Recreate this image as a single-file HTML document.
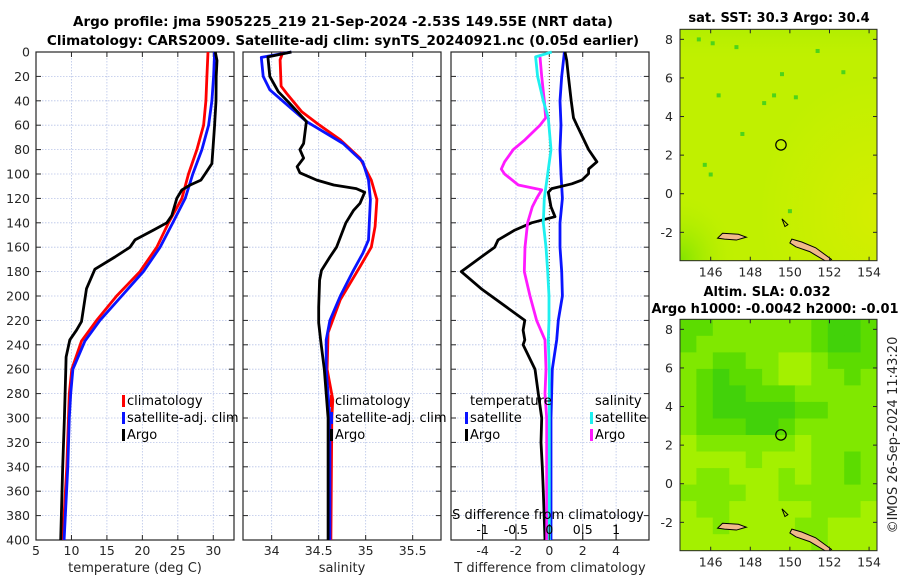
<!DOCTYPE html>
<html><head><meta charset="utf-8"><style>
html,body{margin:0;padding:0;background:#fff;}
svg{display:block;font-family:"DejaVu Sans","Liberation Sans",sans-serif;}
</style></head><body>
<svg id="fig" width="900" height="580" viewBox="0 0 900 580" xmlns="http://www.w3.org/2000/svg">
<rect width="900" height="580" fill="#fff"/>
<text x="343" y="26" font-size="13.5" font-weight="bold" text-anchor="middle" fill="#000">Argo profile: jma 5905225_219 21-Sep-2024 -2.53S 149.55E (NRT data)</text>
<text x="343" y="45" font-size="13.5" font-weight="bold" text-anchor="middle" fill="#000">Climatology: CARS2009. Satellite-adj clim: synTS_20240921.nc (0.05d earlier)</text>
<g id="panels"></g>
<g id="maps"></g>
<text transform="translate(897,435) rotate(-90)" font-size="13" text-anchor="middle" fill="#262626">©IMOS 26-Sep-2024 11:43:20</text>
</svg>
<script>
// ---------- DATA ----------
const depthTicks = [0,20,40,60,80,100,120,140,160,180,200,220,240,260,280,300,320,340,360,380,400];
const tTicks = [5,10,15,20,25,30];
const sTicks = [34,34.5,35,35.5];
const dTTicks = [-4,-2,0,2,4];
const dSTicks = [-1,-0.5,0,0.5,1];
const dSTickLabels = ['-1','-0.5','0','0.5','1'];

const tClimDepth = [0,20,40,60,80,100,120,140,160,180,200,220,237,260,280,300,340,400];
const tClim = [29.25,29.10,28.96,28.63,27.69,26.51,25.57,23.68,22.03,19.67,16.37,13.54,11.42,10.05,9.7,9.58,9.34,8.77];
const tSat = [30.19,30.05,29.81,29.34,28.40,27.12,26.04,24.29,22.5,20.14,17.08,14.01,11.89,10.2,9.9,9.7,9.48,8.96];
const tArgoDepth = [0,7,20,40,60,80,91.5,95.6,99.7,105,109,113,120,134,140,146,154,160,168,178,194,221,228,236,250,260,300,340,400];
const tArgo = [30.28,30.52,30.42,30.38,30.19,29.95,29.81,29.34,28.87,28.25,26.75,25.57,24.86,24.15,23.44,21.56,18.96,18.25,16.13,13.30,12.12,11.42,10.71,9.76,9.25,9.2,9.0,8.77,8.49];

const sClimDepth = [0,6.5,28,34,49,60,72,87,105,121,143,160,176,203,230,260,285,300,400];
const sClim = [34.12,34.09,34.10,34.16,34.32,34.51,34.73,34.94,35.06,35.12,35.10,35.06,34.94,34.73,34.60,34.59,34.65,34.64,34.63];
const sSatDepth = [0,4.4,20,31,45,57,75,90,105,121,154,165,179,200,220,236,260,300,400];
const sSat = [34.21,33.89,33.91,33.98,34.19,34.37,34.76,34.97,35.03,35.05,35.03,34.97,34.87,34.73,34.62,34.58,34.58,34.62,34.62];
const sArgoDepth = [0,4,20,32.5,42,57,75,80,87,94,99,105,109,112,115,124,130,140,160,168,179,187,209,222,236,260,300,400];
const sArgo = [34.21,33.96,33.98,34.07,34.19,34.37,34.34,34.30,34.34,34.27,34.30,34.48,34.66,34.90,34.99,34.94,34.87,34.79,34.69,34.62,34.53,34.51,34.50,34.50,34.52,34.56,34.60,34.60];

const dTSatDepth = [0,20,40,60,80,100,120,140,160,180,200,220,236,260,300,400];
const dTSat = [0.90,0.74,0.64,0.70,0.64,0.70,0.78,0.64,0.64,0.74,0.78,0.54,0.44,0.18,0.1,0.1];
const dTArgoDepth = [0,6.8,20,40,54,60,80,90,96,99.7,105,108,112,115,127,135,140,146,154,160,168,178,180,194,220,228,236,240,260,280,300,320,340,360,400];
const dTArgo = [0.94,1.04,1.14,1.31,1.45,1.65,2.35,2.85,2.35,2.35,1.95,1.35,0.14,-0.06,0.10,0.34,-1.06,-2.07,-3.07,-3.27,-4.08,-5.08,-5.28,-4.08,-1.47,-1.57,-1.47,-1.57,-0.86,-0.66,-0.46,-0.5,-0.42,-0.36,-0.26];
const dSSatDepth = [0,4,20,40,54,80,100,120,140,160,180,200,220,236,260,300,400];
const dSSat = [0.035,-0.205,-0.175,-0.09,-0.015,0.025,-0.025,-0.075,-0.09,-0.05,-0.025,-0.005,-0.005,-0.015,0,0,0];
const dSArgoDepth = [4,20,40,54,60,72,80,90,96,100,109,113,120,127,140,160,180,200,220,236,260,280,300,400];
const dSArgo = [-0.14,-0.115,-0.075,-0.055,-0.14,-0.365,-0.54,-0.67,-0.72,-0.67,-0.465,-0.115,-0.19,-0.255,-0.325,-0.365,-0.375,-0.29,-0.19,-0.065,-0.05,-0.065,-0.04,-0.04];

const lonTicks = [146,148,150,152,154];
const latTicks = [-2,0,2,4,6,8];
const argoLon = 149.55, argoLat = 2.53;
const slaGrid = [
 [2,2,1,1,1,1,1,1,2,3,3,2],
 [2,1,1,1,1,1,1,1,2,3,3,2],
 [1,1,2,2,1,1,0,0,1,2,2,2],
 [1,2,3,2,2,1,0,0,1,1,2,1],
 [1,2,3,3,2,2,2,1,1,1,1,1],
 [1,2,3,3,3,3,3,2,2,1,1,1],
 [1,2,2,2,3,3,2,1,1,1,1,1],
 [0,1,1,1,1,1,1,0,1,1,1,1],
 [0,0,0,0,1,0,0,0,1,1,2,1],
 [0,1,1,0,0,0,1,0,1,1,2,1],
 [1,1,1,1,0,0,1,1,1,1,1,1],
 [0,1,1,0,0,0,0,0,1,1,1,0],
 [0,0,1,0,0,0,0,1,1,0,0,0],
 [0,0,0,0,0,0,0,0,1,0,0,0]];
const slaColors = ['#a4f000','#80e800','#5cdc00','#42d20a'];

// ---------- DRAW ----------
const NS='http://www.w3.org/2000/svg';
function mk(tag,attrs,parent){const e=document.createElementNS(NS,tag);for(const k in attrs)e.setAttribute(k,attrs[k]);parent.appendChild(e);return e;}
const panels=document.getElementById('panels');
const Y0=52,Y1=540;
const yOf=d=>Y0+(d/400)*(Y1-Y0);

function axisPanel(name,x0,x1,xmin,xmax,ticks,labels,xlabel){
  const g=mk('g',{},panels);
  
  
  const xOf=v=>x0+(v-xmin)/(xmax-xmin)*(x1-x0);
  ticks.forEach(t=>{mk('line',{x1:xOf(t),x2:xOf(t),y1:Y0,y2:Y1,stroke:'#b8c4e8','stroke-width':0.8,'stroke-dasharray':'1.5,1.5'},g);});
  depthTicks.forEach(d=>{mk('line',{x1:x0,x2:x1,y1:yOf(d),y2:yOf(d),stroke:'#b8c4e8','stroke-width':0.8,'stroke-dasharray':'1.5,1.5'},g);});
  depthTicks.forEach(d=>{mk('line',{x1:x0,x2:x0+5,y1:yOf(d),y2:yOf(d),stroke:'#262626'},g);mk('line',{x1:x1-5,x2:x1,y1:yOf(d),y2:yOf(d),stroke:'#262626'},g);});
  ticks.forEach((t,i)=>{mk('line',{x1:xOf(t),x2:xOf(t),y1:Y1,y2:Y1-5,stroke:'#262626'},g);mk('line',{x1:xOf(t),x2:xOf(t),y1:Y0,y2:Y0+5,stroke:'#262626'},g);
    const tx=mk('text',{x:xOf(t),y:555,'font-size':12.5,'text-anchor':'middle',fill:'#262626'},g);tx.textContent=labels[i];
    
    });
  const xl=mk('text',{x:(x0+x1)/2,y:572,'font-size':13,'text-anchor':'middle',fill:'#262626'},g);xl.textContent=xlabel;
  
  
  mk('rect',{x:x0,y:Y0,width:x1-x0,height:Y1-Y0,fill:'none',stroke:'#262626','stroke-width':1.2},g);
  return {g,xOf};
}
function line(g,xOf,depths,vals,color,name,w){
  const p=mk('polyline',{points:depths.map((d,i)=>xOf(vals[i]).toFixed(1)+','+yOf(d).toFixed(1)).join(' '),fill:'none',stroke:color,'stroke-width':w||2.8,'stroke-linejoin':'round'},g);
  
  
}
function legend(g,x,y,items){
  items.forEach((it,i)=>{
    mk('rect',{x:x,y:y+i*17-10,width:3,height:12,fill:it[1]},g);
    const t=mk('text',{x:x+5,y:y+i*17,'font-size':13,fill:'#000'},g);t.textContent=it[0];
    
    
  });
}

depthTicks.forEach(d=>{const t=mk('text',{x:30,y:yOf(d)+4.5,'font-size':12.5,'text-anchor':'end',fill:'#262626'},panels);t.textContent=d;
  
  });

const p1=axisPanel('temperature-panel',36,234,5,5+197.7/7.08,tTicks,tTicks.map(String),'temperature (deg C)');
line(p1.g,p1.xOf,tClimDepth,tClim,'#ff0000','climatology-temp-line');
line(p1.g,p1.xOf,tClimDepth,tSat,'#0a14ff','satellite-temp-line');
line(p1.g,p1.xOf,tArgoDepth,tArgo,'#000','argo-temp-line');
legend(p1.g,122,405,[['climatology','#ff0000'],['satellite-adj. clim','#0a14ff'],['Argo','#000']]);

const p2=axisPanel('salinity-panel',243,441,33.695,33.695+198/94,sTicks,['34','34.5','35','35.5'],'salinity');
line(p2.g,p2.xOf,sClimDepth,sClim,'#ff0000','climatology-salinity-line');
line(p2.g,p2.xOf,sSatDepth,sSat,'#0a14ff','satellite-salinity-line');
line(p2.g,p2.xOf,sArgoDepth,sArgo,'#000','argo-salinity-line');
legend(p2.g,330,405,[['climatology','#ff0000'],['satellite-adj. clim','#0a14ff'],['Argo','#000']]);

const p3=axisPanel('difference-panel',451,649,-5.89,5.97,dTTicks,dTTicks.map(String),'T difference from climatology');
const xS=v=>p3.xOf(v*4);
mk('line',{x1:p3.xOf(0),x2:p3.xOf(0),y1:Y0,y2:Y1,stroke:'#7a4a20','stroke-width':1,'stroke-dasharray':'1,2'},p3.g);
line(p3.g,p3.xOf,dTSatDepth,dTSat,'#0a14ff','satellite-temp-diff-line');
line(p3.g,p3.xOf,dTArgoDepth,dTArgo,'#000','argo-temp-diff-line');
line(p3.g,xS,dSArgoDepth,dSArgo,'#ff1aff','argo-salinity-diff-line');
line(p3.g,xS,dSSatDepth,dSSat,'#1ef0f0','satellite-salinity-diff-line');
{const t=mk('text',{x:470,y:405,'font-size':13,fill:'#000'},p3.g);t.textContent='temperature';
 
 
 const s=mk('text',{x:595,y:405,'font-size':13,fill:'#000'},p3.g);s.textContent='salinity';
 
 }
legend(p3.g,465,422,[['satellite','#0a14ff'],['Argo','#000']]);
legend(p3.g,590,422,[['satellite','#1ef0f0'],['Argo','#ff1aff']]);
{const t=mk('text',{x:548,y:519,'font-size':13,'text-anchor':'middle',fill:'#000'},p3.g);t.textContent='S difference from climatology';
 
 }
dSTicks.forEach((s,i)=>{mk('line',{x1:xS(s),x2:xS(s),y1:Y1,y2:Y1-16,stroke:'#262626'},p3.g);
  const t=mk('text',{x:xS(s),y:534,'font-size':12.5,'text-anchor':'middle',fill:'#000'},p3.g);t.textContent=dSTickLabels[i];
  
  });

// ---------- MAPS ----------
const maps=document.getElementById('maps');
const MX0=680,MX1=877,LON0=144.45,LON1=154.4,LAT0=8.52,LAT1=-3.47;
function drawMap(name,top,kind,titles){
  const g=mk('g',{},maps);
  
  
  const bottom=top+231.4;
  const lx=v=>MX0+(v-LON0)/(LON1-LON0)*(MX1-MX0);
  const ly=v=>top+(LAT0-v)/(LAT0-LAT1)*(bottom-top);
  const cid='clip'+name;
  const cp=mk('clipPath',{id:cid},g);mk('rect',{x:MX0,y:top,width:MX1-MX0,height:bottom-top},cp);
  const f=mk('g',{'clip-path':'url(#'+cid+')'},g);
  if(kind==='sst'){
    const gid='gr'+name;
    const defs=mk('defs',{},g);
    const rg=mk('radialGradient',{id:gid,cx:'1',cy:'0.8',r:'0.6'},defs);
    mk('stop',{offset:'0','stop-color':'#d4ee00'},rg);mk('stop',{offset:'1','stop-color':'#c0f000'},rg);
    mk('rect',{x:MX0,y:top,width:MX1-MX0,height:bottom-top,fill:'url(#'+gid+')'},f);
    const lg=mk('radialGradient',{id:gid+'b',cx:'0',cy:'1',r:'0.3'},defs);
    mk('stop',{offset:'0','stop-color':'#80e400'},lg);mk('stop',{offset:'1','stop-color':'#c0f000','stop-opacity':'0'},lg);
    mk('rect',{x:MX0,y:top,width:MX1-MX0,height:bottom-top,fill:'url(#'+gid+'b)'},f);
    const tg=mk('linearGradient',{id:gid+'c',x1:'0',y1:'0',x2:'0',y2:'1'},defs);
    mk('stop',{offset:'0','stop-color':'#a8ec00','stop-opacity':'0.6'},tg);mk('stop',{offset:'0.15','stop-color':'#c0f000','stop-opacity':'0'},tg);
    mk('rect',{x:MX0,y:top,width:MX1-MX0,height:bottom-top,fill:'url(#'+gid+'c)'},f);
    const spots=[[146,7.9],[147.2,7.7],[151.3,7.5],[149.5,6.3],[146.3,5.2],[149.1,5.2],[150.2,5.1],[148.6,4.8],[147.5,3.2],[145.6,1.6],[145.9,1.1],[149.9,-0.8],[145.3,8.1],[152.6,6.4]];
    spots.forEach(s=>mk('rect',{x:lx(s[0]),y:ly(s[1]),width:4,height:4,fill:'#4cd41a'},f));
  } else {
    const rows=slaGrid.length,cols=slaGrid[0].length;
    const cw=(MX1-MX0)/cols,ch=(bottom-top)/rows;
    slaGrid.forEach((r,i)=>r.forEach((v,j)=>{
      const c=mk('rect',{x:(MX0+j*cw).toFixed(1),y:(top+i*ch).toFixed(1),width:(cw+0.6).toFixed(1),height:(ch+0.6).toFixed(1),fill:slaColors[v]},f);
      
      
    }));
  }
  mk('path',{d:`M${lx(146.6)},${ly(-2.05)} L${lx(147.4)},${ly(-2.1)} L${lx(147.8)},${ly(-2.25)} L${lx(147.3)},${ly(-2.4)} L${lx(146.7)},${ly(-2.35)} L${lx(146.35)},${ly(-2.3)} Z`,fill:'#f0b98a',stroke:'#000','stroke-width':1},f);
  mk('path',{d:`M${lx(150.1)},${ly(-2.35)} L${lx(150.6)},${ly(-2.5)} L${lx(151.3)},${ly(-2.8)} L${lx(152.1)},${ly(-3.4)} L${lx(151.9)},${ly(-3.55)} L${lx(151.0)},${ly(-3.0)} L${lx(150.3)},${ly(-2.75)} L${lx(150.0)},${ly(-2.55)} Z`,fill:'#f0b98a',stroke:'#000','stroke-width':1},f);
  mk('path',{d:`M${lx(149.6)},${ly(-1.3)} L${lx(149.9)},${ly(-1.6)} L${lx(149.75)},${ly(-1.7)} Z`,fill:'none',stroke:'#000','stroke-width':1},f);
  const circ=mk('circle',{cx:lx(argoLon),cy:ly(argoLat),r:5.2,fill:'none',stroke:'#000','stroke-width':1.2},g);
  
  
  mk('rect',{x:MX0,y:top,width:MX1-MX0,height:bottom-top,fill:'none',stroke:'#262626','stroke-width':1},g);
  lonTicks.forEach(v=>{mk('line',{x1:lx(v),x2:lx(v),y1:bottom,y2:bottom-4,stroke:'#262626'},g);mk('line',{x1:lx(v),x2:lx(v),y1:top,y2:top+4,stroke:'#262626'},g);
    const t=mk('text',{x:lx(v),y:bottom+16,'font-size':12.5,'text-anchor':'middle',fill:'#262626'},g);t.textContent=v;
    
    });
  latTicks.forEach(v=>{mk('line',{x1:MX0,x2:MX0+4,y1:ly(v),y2:ly(v),stroke:'#262626'},g);mk('line',{x1:MX1-4,x2:MX1,y1:ly(v),y2:ly(v),stroke:'#262626'},g);
    const t=mk('text',{x:MX0-7,y:ly(v)+4.5,'font-size':12.5,'text-anchor':'end',fill:'#262626'},g);t.textContent=v;
    
    });
  titles.forEach(tt=>{const t=mk('text',{x:tt[0],y:tt[1],'font-size':13,'font-weight':'bold','text-anchor':'middle',fill:'#000'},g);t.textContent=tt[2];
    
    });
}
drawMap('sst-map',29.3,'sst',[[779,22,'sat. SST: 30.3 Argo: 30.4']]);
drawMap('sla-map',319.3,'sla',[[767,296,'Altim. SLA: 0.032'],[775,313,'Argo h1000: -0.0042 h2000: -0.01']]);
</script>
</body></html>
